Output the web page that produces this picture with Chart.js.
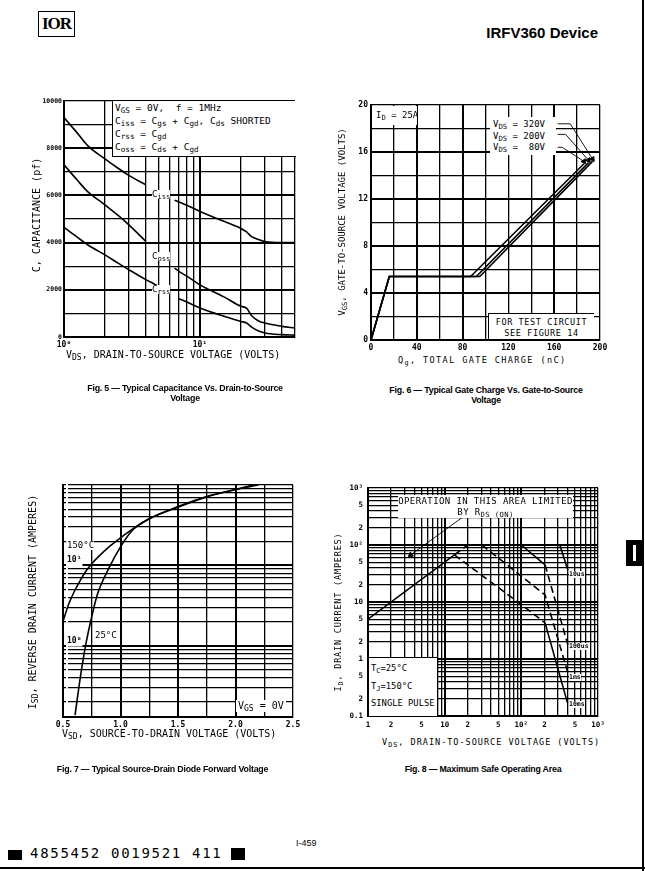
<!DOCTYPE html>
<html>
<head>
<meta charset="utf-8">
<script src="https://cdn.jsdelivr.net/npm/chart.js@4.4.0/dist/chart.umd.min.js"></script>
<style>
body{margin:0;background:#fff;width:645px;height:871px;position:relative;overflow:hidden;font-family:'DejaVu Sans Mono',monospace;color:#000}
.c{position:absolute}
.t{position:absolute;white-space:nowrap;line-height:1}
.rot{position:absolute;white-space:nowrap;line-height:1;transform:translate(-50%,-50%) rotate(-90deg)}
.wb{background:#fff}
.cap{position:absolute;font-family:'Liberation Sans',Arial,sans-serif;font-weight:bold;font-size:8.8px;text-align:center;line-height:10px;letter-spacing:-0.2px}
sub{font-size:0.8em;vertical-align:-0.3em;line-height:0}
</style>
</head>
<body>
<!-- header -->
<div class="t" style="left:38px;top:11px;border:1.5px solid #000;padding:2px 3px;font:bold 17px 'Liberation Serif',serif;letter-spacing:-1px">IOR</div>
<div class="t" style="right:47px;top:24px;font:bold 15px 'Liberation Sans',Arial,sans-serif">IRFV360 Device</div>
<div style="position:absolute;left:642px;top:0;width:2px;height:871px;background:#000"></div>
<div style="position:absolute;left:0;top:867px;width:645px;height:2px;background:#000"></div>
<div style="position:absolute;left:626px;top:540px;width:16px;height:26px;background:#000"></div>
<div style="position:absolute;left:633px;top:545px;width:3px;height:16px;background:#fff"></div>

<div class="c" style="left:30px;top:95px"><canvas id="fig5" width="273" height="256"></canvas></div>
<div class="c" style="left:345px;top:97px"><canvas id="fig6" width="265" height="257"></canvas></div>
<div class="c" style="left:51px;top:480px"><canvas id="fig7" width="252" height="250"></canvas></div>
<div class="c" style="left:340px;top:480px"><canvas id="fig8" width="272" height="252"></canvas></div>

<!-- fig 5 texts -->
<div class="t wb" style="left:112px;top:101px;width:181px;height:55px;border-left:1.5px solid #000;border-bottom:1.5px solid #000;font-size:9.5px;line-height:13px;padding-left:2px">
V<sub>GS</sub> = 0V,&nbsp; f = 1MHz<br>C<sub>iss</sub> = C<sub>gs</sub> + C<sub>gd</sub>, C<sub>ds</sub> SHORTED<br>C<sub>rss</sub> = C<sub>gd</sub><br>C<sub>oss</sub> = C<sub>ds</sub> + C<sub>gd</sub></div>
<div class="t wb" style="left:152px;top:190px;font-size:9px">C<sub>iss</sub></div>
<div class="t wb" style="left:152px;top:252px;font-size:9px">C<sub>oss</sub></div>
<div class="t wb" style="left:152px;top:285px;font-size:9px">C<sub>rss</sub></div>
<div class="rot" style="left:37px;top:215px;font-size:10px">C, CAPACITANCE (pf)</div>
<div class="t" style="left:66px;top:350px;font-size:10px">V<sub>DS</sub>, DRAIN-TO-SOURCE VOLTAGE (VOLTS)</div>
<div class="cap" style="left:55px;top:383px;width:260px">Fig. 5 — Typical Capacitance Vs. Drain-to-Source<br>Voltage</div>

<!-- fig 6 texts -->
<div class="t wb" style="left:373px;top:106px;width:44px;height:19px;font-size:9px;padding:5px 0 0 3px;box-sizing:border-box">I<sub>D</sub> = 25A</div>
<div class="t wb" style="left:490px;top:117px;width:66px;height:38px;font-size:9px;line-height:11.5px;padding:2px 0 0 3px;box-sizing:border-box">V<sub>DS</sub> = 320V<br>V<sub>DS</sub> = 200V<br>V<sub>DS</sub> =&nbsp; 80V</div>
<div class="t wb" style="left:488px;top:313px;width:106px;height:26px;font-size:8.5px;line-height:11px;text-align:center;letter-spacing:0.6px;padding-top:3px;box-sizing:border-box;border-left:1px solid #000;border-top:1px solid #000">FOR TEST CIRCUIT<br>SEE FIGURE 14</div>
<div class="rot" style="left:342px;top:222px;font-size:9px">V<sub>GS</sub>, GATE-TO-SOURCE VOLTAGE (VOLTS)</div>
<div class="t" style="left:398px;top:356px;font-size:8.5px;letter-spacing:1.4px">Q<sub>g</sub>, TOTAL GATE CHARGE (nC)</div>
<div class="cap" style="left:356px;top:385px;width:260px">Fig. 6 — Typical Gate Charge Vs. Gate-to-Source<br>Voltage</div>

<!-- fig 7 texts -->
<div class="t wb" style="left:67px;top:541px;font-size:9px">150°C</div>
<div class="t wb" style="left:95px;top:631px;font-size:9px">25°C</div>
<div class="t wb" style="left:236px;top:700px;font-size:10px;padding:1px 2px">V<sub>GS</sub> = 0V</div>
<div class="rot" style="left:33px;top:602px;font-size:10px">I<sub>SD</sub>, REVERSE DRAIN CURRENT (AMPERES)</div>
<div class="t" style="left:62px;top:729px;font-size:10px">V<sub>SD</sub>, SOURCE-TO-DRAIN VOLTAGE (VOLTS)</div>
<div class="cap" style="left:25px;top:764px;width:275px">Fig. 7 — Typical Source-Drain Diode Forward Voltage</div>

<!-- fig 8 texts -->
<div class="t wb" style="left:398px;top:495px;width:175px;height:23px;font-size:9px;line-height:11px;text-align:center;letter-spacing:0.4px;padding-top:1px;box-sizing:border-box">OPERATION IN THIS AREA LIMITED<br>BY R<sub>DS (ON)</sub></div>
<div class="t wb" style="left:569px;top:571px;font-size:6.5px;font-weight:bold">10us</div>
<div class="t wb" style="left:569px;top:643px;font-size:6.5px;font-weight:bold">100us</div>
<div class="t wb" style="left:569px;top:674px;font-size:6.5px;font-weight:bold">1ms</div>
<div class="t wb" style="left:569px;top:701px;font-size:6.5px;font-weight:bold">10ms</div>
<div class="t wb" style="left:369px;top:657px;width:69px;height:59px;font-size:8.8px;line-height:17.5px;padding:2px 0 0 2px;box-sizing:border-box;border-top:1.5px solid #000;border-right:1.5px solid #000">T<sub>C</sub>=25°C<br>T<sub>J</sub>=150°C<br>SINGLE PULSE</div>
<div class="rot" style="left:338px;top:612px;font-size:8.5px;letter-spacing:0.8px">I<sub>D</sub>, DRAIN CURRENT (AMPERES)</div>
<div class="t" style="left:382px;top:738px;font-size:8.5px;letter-spacing:1px">V<sub>DS</sub>, DRAIN-TO-SOURCE VOLTAGE (VOLTS)</div>
<div class="cap" style="left:353px;top:764px;width:260px">Fig. 8 — Maximum Safe Operating Area</div>

<!-- footer -->
<div class="t" style="left:296px;top:838px;font:9px 'Liberation Sans',Arial,sans-serif">I-459</div>
<div style="position:absolute;left:8px;top:850px;width:14px;height:10px;background:#000"></div>
<div class="t" style="left:30px;top:846px;font-size:14px;letter-spacing:1.7px">4855452 0019521 411</div>
<div style="position:absolute;left:231px;top:848px;width:14px;height:12px;background:#000"></div>

<script>
// Fig 5 - capacitance vs VDS
const capVds = [1, 1.25, 1.5, 2, 2.5, 3, 4, 4.5, 5, 5.5, 6, 6.5, 7, 8, 10, 15, 20, 22, 24, 27, 30, 40, 50];
const ciss = [9300, 8650, 8100, 7550, 7150, 6850, 6450, null, null, null, null, 5800, 5720, 5580, 5320, 4900, 4600, 4450, 4250, 4130, 4050, 4000, 4000];
const coss = [7300, 6650, 6150, 5600, 5150, 4750, 4050, null, null, null, null, 2920, 2780, 2580, 2210, 1700, 1300, 1220, 900, 680, 590, 450, 380];
const crss = [4650, 4230, 3900, 3480, 3130, 2850, 2430, 2280, 2140, null, null, null, 1620, 1480, 1230, 880, 660, 590, 420, 250, 170, 100, 80];
const capXTicks = [1, 2, 3, 4, 5, 6, 7, 8, 9, 10, 20, 30, 40, 50];
const capYTicks = [0, 1000, 2000, 3000, 4000, 5000, 6000, 7000, 8000, 9000, 10000];

// Fig 6 - gate charge
const qg80 = [0, 16, 87, 186];
const vgs80 = [0, 5.4, 5.4, 15];
const qg200 = [0, 16, 92, 190];
const vgs200 = [0, 5.4, 5.4, 15.1];
const qg320 = [0, 16, 95, 193.5];
const vgs320 = [0, 5.4, 5.4, 15.2];
const qgTicks = [0, 20, 40, 60, 80, 100, 120, 140, 160, 180, 200];
const vgsTicks = [0, 2, 4, 6, 8, 10, 12, 14, 16, 18, 20];

// Fig 7 - diode forward voltage
const vsd150 = [0.5, 0.55, 0.6, 0.65, 0.7, 0.75, 0.8, 0.9, 1.0, 1.1, 1.25, 1.5, 1.75, 2.0, 2.2];
const isd150 = [2.0, 3.3, 4.8, 6.5, 8.5, 10.5, 12.5, 17, 22, 28, 38, 54, 72, 88, 100];
const vsd25 = [0.605, 0.65, 0.7, 0.75, 0.8, 0.9, 1.0, 1.1, 1.25, 1.5, 1.75, 2.0, 2.15];
const isd25 = [0.137, 0.4, 1.07, 2.3, 4.4, 9.3, 17, 27, 38, 53, 71, 88, 100];
const vsdTicks = [0.5, 0.75, 1.0, 1.25, 1.5, 1.75, 2.0, 2.25, 2.5];
const isdTicks = [0.2, 0.3, 0.4, 0.5, 0.6, 0.7, 0.8, 0.9, 1, 2, 3, 4, 5, 6, 7, 8, 9, 10, 20, 30, 40, 50, 60, 70, 80, 90, 100];

// Fig 8 - safe operating area
const rdsVds = [1, 13.4, 20];
const rdsId = [5, 67, 100];
const topVds = [20, 318];
const topId = [100, 100];
const ms10Vds = [13.4, 101, 204, 400];
const ms10Id = [67, 8.9, 4.3, 0.17];
const ms1Vds = [30.6, 204, 400];
const ms1Id = [100, 13.3, 0.6];
const us100Vds = [100, 204, 405];
const us100Id = [100, 45, 1.76];
const us10Vds = [318, 405];
const us10Id = [100, 36];
const soaXTicks = [1, 2, 3, 4, 5, 6, 7, 8, 9, 10, 20, 30, 40, 50, 60, 70, 80, 90, 100, 200, 300, 400, 500, 600, 700, 800, 900, 1000];
const soaYTicks = [0.1, 0.2, 0.3, 0.4, 0.5, 0.6, 0.7, 0.8, 0.9, 1, 2, 3, 4, 5, 6, 7, 8, 9, 10, 20, 30, 40, 50, 60, 70, 80, 90, 100, 200, 300, 400, 500, 600, 700, 800, 900, 1000];

Chart.defaults.font.family = "'DejaVu Sans Mono', monospace";
Chart.defaults.color = '#000';

function pts(xs, ys) { return xs.map((x, i) => ({ x: x, y: ys[i] })); }
function line(xs, ys, extra) {
  return Object.assign({ data: pts(xs, ys), showLine: true, borderColor: '#000', borderWidth: 1.6,
    pointRadius: 0, fill: false, spanGaps: false }, extra || {});
}
function arrow(xs, ys, rot) {
  const last = xs.length - 1;
  return line(xs, ys, { borderWidth: 0.9, pointStyle: 'triangle', rotation: rot,
    pointBackgroundColor: '#000', pointBorderColor: '#000',
    pointRadius: c => c.dataIndex === last ? 3 : 0 });
}
// o: type,min,max,ticks,labels(Map),heavy,w,h,extra
function axis(o) {
  return {
    type: o.type, min: o.min, max: o.max,
    afterBuildTicks: s => { s.ticks = o.ticks.map(v => ({ value: v })); },
    afterFit: s => {
      if (o.w != null) s.width = o.w;
      if (o.h != null) s.height = o.h;
      s.paddingLeft = 0; s.paddingRight = 0; s.paddingTop = 0; s.paddingBottom = 0;
    },
    border: { display: true, color: '#000', width: 2 },
    grid: { color: '#000', drawTicks: false,
      lineWidth: c => (c.tick && o.heavy.includes(c.tick.value)) ? 2 : 1.3 },
    ticks: Object.assign({ autoSkip: false, maxRotation: 0, padding: 3,
      font: { size: 8, weight: 'bold' },
      callback: v => o.labels.has(v) ? o.labels.get(v) : '' }, o.extra || {})
  };
}
function make(id, datasets, x, y, pad) {
  new Chart(document.getElementById(id), {
    type: 'scatter',
    data: { datasets: datasets },
    options: {
      responsive: false, animation: false, events: [],
      layout: { padding: pad },
      plugins: { legend: { display: false }, tooltip: { enabled: false } },
      scales: { x: x, y: y }
    }
  });
}

// Fig 5
make('fig5', [
  line(capVds, ciss, { cubicInterpolationMode: 'monotone' }),
  line(capVds, coss, { cubicInterpolationMode: 'monotone' }),
  line(capVds, crss, { cubicInterpolationMode: 'monotone' })
],
axis({ type: 'logarithmic', min: 1, max: 50, ticks: capXTicks, heavy: [10], h: 14,
  labels: new Map([[1, '10⁰'], [10, '10¹']]) }),
axis({ type: 'linear', min: 0, max: 10000, ticks: capYTicks, heavy: [2000, 4000, 6000, 8000], w: 34,
  labels: new Map([[0, '0'], [2000, '2000'], [4000, '4000'], [6000, '6000'], [8000, '8000'], [10000, '10000']]),
  extra: { font: { size: 6.5, weight: 'bold' }, padding: 2 } }),
{ top: 6, right: 8, left: 0, bottom: 0 });

// Fig 6
make('fig6', [
  line(qg80, vgs80),
  line(qg200, vgs200),
  line(qg320, vgs320),
  arrow([163, 174, 193.5], [18.4, 18.4, 15.4], 147),
  arrow([163, 170, 190], [17.5, 17.5, 15.3], 147),
  arrow([163, 167, 186], [16.4, 16.4, 15.2], 147)
],
axis({ type: 'linear', min: 0, max: 200, ticks: qgTicks, heavy: [40, 80, 160], h: 14,
  labels: new Map([[0, '0'], [40, '40'], [80, '80'], [120, '120'], [160, '160'], [200, '200']]) }),
axis({ type: 'linear', min: 0, max: 20, ticks: vgsTicks, heavy: [4, 8, 12, 16], w: 26,
  labels: new Map([[0, '0'], [4, '4'], [8, '8'], [12, '12'], [16, '16'], [20, '20']]) }),
{ top: 8, right: 10, left: 0, bottom: 0 });

// Fig 7
make('fig7', [
  line(vsd150, isd150, { cubicInterpolationMode: 'monotone' }),
  line(vsd25, isd25, { cubicInterpolationMode: 'monotone' })
],
axis({ type: 'linear', min: 0.5, max: 2.5, ticks: vsdTicks, heavy: [1.0, 1.5, 2.0], h: 13,
  labels: new Map([[0.5, '0.5'], [1.0, '1.0'], [1.5, '1.5'], [2.0, '2.0'], [2.5, '2.5']]) }),
axis({ type: 'logarithmic', min: 0.13, max: 100, ticks: isdTicks, heavy: [1, 10], w: 2,
  labels: new Map([[1, '10⁰'], [10, '10¹']]),
  extra: { mirror: true, padding: 4, labelOffset: -5, showLabelBackdrop: true,
    backdropColor: '#fff', backdropPadding: 1 } }),
{ top: 5, right: 10, left: 10, bottom: 0 });

// Fig 8
const dash = [7, 4];
make('fig8', [
  line(rdsVds, rdsId, { segment: { borderDash: c => c.p0DataIndex === 0 ? [] : dash } }),
  line(topVds, topId, { borderWidth: 2.2 }),
  line(ms10Vds, ms10Id, { segment: { borderDash: c => c.p0DataIndex < 2 ? dash : [] } }),
  line(ms1Vds, ms1Id, { borderDash: dash }),
  line(us100Vds, us100Id, { segment: { borderDash: c => c.p0DataIndex === 0 ? [] : dash } }),
  line(us10Vds, us10Id),
  arrow([17.3, 3.6], [310, 67], 234)
],
axis({ type: 'logarithmic', min: 1, max: 1000, ticks: soaXTicks, heavy: [10, 100], h: 16,
  labels: new Map([[1, '1'], [2, '2'], [5, '5'], [10, '10'], [20, '2'], [50, '5'], [100, '10²'], [200, '2'], [500, '5'], [1000, '10³']]),
  extra: { font: { size: 7.5, weight: 'bold' }, padding: 5 } }),
axis({ type: 'logarithmic', min: 0.1, max: 1000, ticks: soaYTicks, heavy: [1, 10, 100], w: 28,
  labels: new Map([[0.1, '0.1'], [0.2, '2'], [0.5, '5'], [1, '1'], [2, '2'], [5, '5'], [10, '10'], [20, '2'], [50, '5'], [100, '10²'], [200, '2'], [500, '5'], [1000, '10³']]),
  extra: { font: { size: 7.5, weight: 'bold' }, padding: 5 } }),
{ top: 8, right: 14, left: 0, bottom: 0 });
</script>
</body>
</html>
